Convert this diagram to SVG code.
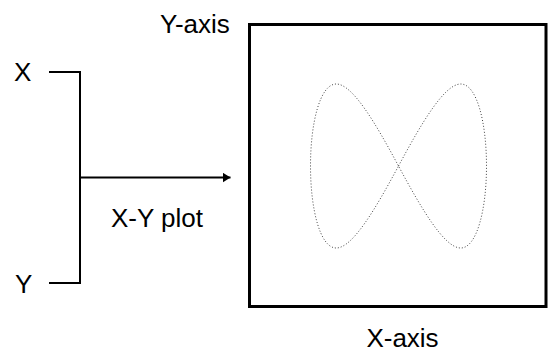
<svg xmlns="http://www.w3.org/2000/svg" width="549" height="352" viewBox="0 0 549 352">
<style>
.lbl{font-family:"Liberation Sans",Arial,sans-serif;font-size:26px;fill:#000}
.wire{fill:none;stroke:#000;stroke-width:2}
</style>
<defs>
<marker id="ah" markerUnits="userSpaceOnUse" markerWidth="10" markerHeight="12" refX="8" refY="5" orient="auto">
<polygon points="0,0 8,5 0,10" fill="#000"/>
</marker>
</defs>
<rect width="549" height="352" fill="#fff"/>
<g id="input-x"><text class="lbl" x="14" y="81">X</text></g>
<g id="input-y"><text class="lbl" x="15" y="293">Y</text></g>
<g id="connectors">
<polyline class="wire" points="49,72 80,72 80,283 49,283"/>
<line class="wire" x1="80" y1="177.5" x2="230.5" y2="177.5" marker-end="url(#ah)"/>
</g>
<g id="label-plot"><text class="lbl" x="111" y="227">X-Y plot</text></g>
<g id="plot">
<rect x="249.5" y="24.5" width="296.5" height="282" fill="none" stroke="#000" stroke-width="3"/>
<path d="M398.5,166 C421.54,123.06 444.44,84 460.73,84 C477.02,84 486.5,123.06 486.5,166 C486.5,208.94 477.02,248 460.73,248 C444.44,248 421.54,208.94 398.5,166 C375.46,123.06 352.56,84 336.27,84 C319.98,84 310.5,123.06 310.5,166 C310.5,208.94 319.98,248 336.27,248 C352.56,248 375.46,208.94 398.5,166 Z" fill="none" stroke="#444" stroke-width="1" stroke-dasharray="1 2"/>
<text class="lbl" x="160" y="33">Y-axis</text>
<text class="lbl" x="402.5" y="347" text-anchor="middle">X-axis</text>
</g>
</svg>
